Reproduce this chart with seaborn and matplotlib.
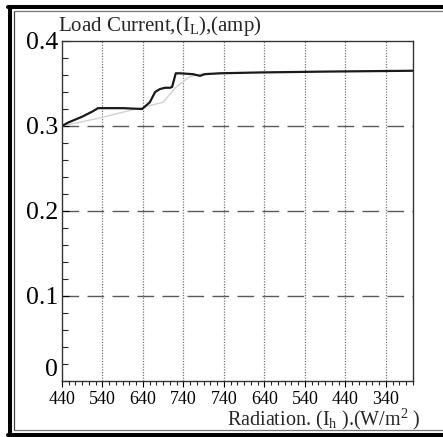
import numpy as np
import pandas as pd
import matplotlib
matplotlib.use('Agg')
import matplotlib.pyplot as plt
from matplotlib.lines import Line2D
import seaborn as sns

# Radiation sequence (up then down), shown as tick labels
radiation_labels = ['440', '540', '640', '740', '740', '640', '540', '440', '340']

# Main (dark) load current trace, x in tick-step units
main_x = [0.0, 0.15, 0.5, 0.75, 0.89, 1.5, 1.98, 2.17, 2.30, 2.42, 2.55, 2.67,
          2.72, 2.81, 2.91, 3.23, 3.41, 3.53, 3.90, 4.89, 6.5, 8.67]
main_y = [0.300, 0.304, 0.311, 0.317, 0.321, 0.321, 0.320, 0.328, 0.340, 0.3435,
          0.345, 0.345, 0.346, 0.362, 0.362, 0.361, 0.359, 0.361, 0.362, 0.363,
          0.364, 0.365]

# Faint (gray) trace
faint_x = [0.0, 0.89, 2.0, 2.5, 2.8, 3.15, 3.5]
faint_y = [0.300, 0.309, 0.322, 0.328, 0.345, 0.358, 0.362]

sns.set_style('white')
plt.rcParams['font.family'] = ['Liberation Serif', 'DejaVu Serif']
plt.rcParams['mathtext.fontset'] = 'custom'
plt.rcParams['mathtext.rm'] = 'Liberation Serif'
plt.rcParams['mathtext.it'] = 'Liberation Serif:italic'

fig = plt.figure(figsize=(4.43, 4.37), dpi=100)
ax = fig.add_axes([62 / 443, 1 - 381 / 437, (413 - 62) / 443, (381 - 41) / 437])

df_main = pd.DataFrame({'x': main_x, 'y': main_y})
df_faint = pd.DataFrame({'x': faint_x, 'y': faint_y})
sns.lineplot(data=df_faint, x='x', y='y', ax=ax, color='#d2d2d2', linewidth=1.0,
             estimator=None, sort=False)
sns.lineplot(data=df_main, x='x', y='y', ax=ax, color='#1a1a1a', linewidth=1.6,
             estimator=None, sort=False)

ax.set_xlim(0, 8.67)
ax.set_ylim(0, 0.4)
ax.set_xticks(range(len(radiation_labels)))
ax.set_xticklabels(radiation_labels, fontsize=13)
ax.set_xticks(np.arange(0, 8.67, 1 / 6), minor=True)
ax.set_yticks([0, 0.1, 0.2, 0.3, 0.4])
ax.set_yticklabels(['0', '0.1', '0.2', '0.3', '0.4'], fontsize=18.5)
ax.set_yticks(np.arange(0, 0.401, 0.02), minor=True)
ax.set_xlabel('')
ax.set_ylabel('')
# the "0" label sits above the corner in the original
ax.get_yticklabels()[0].set_verticalalignment('bottom')

ax.tick_params(axis='x', which='major', direction='out', length=4, width=0.8, pad=3,
               colors='black')
ax.tick_params(axis='x', which='minor', direction='out', length=3, width=0.8)
ax.tick_params(axis='y', which='major', direction='in', length=5, width=0.8, pad=3,
               colors='black')
ax.tick_params(axis='y', which='minor', direction='in', length=4, width=0.8)
ax.tick_params(bottom=True, left=True, which='both')

for s in ax.spines.values():
    s.set_color('#333333')
    s.set_linewidth(1.0)

# dashed horizontal grid at 0.1 / 0.2 / 0.3, dotted verticals at each step
for yv in [0.1, 0.2, 0.3]:
    ax.axhline(yv, color='#5a5a5a', linewidth=1.0, linestyle=(0, (12, 6)), zorder=0)
for xv in range(1, len(radiation_labels)):
    ax.axvline(xv, color='#777777', linewidth=0.9, linestyle=(0, (1, 1.2)), zorder=0)

fig.text(58 / 443, 1 - 31 / 437, r'Load Current,(I$_{\mathrm{L}}$),(amp)', fontsize=15,
         ha='left', va='baseline')
fig.text(421 / 443, 1 - 425 / 437, r'Radiation. (I$_{\mathrm{h}}$ ).(W/m$^{\mathrm{2}}$ )',
         fontsize=14.5, ha='right', va='baseline')

# scanned page frame
W, H = 443, 437
def fx(px):
    return px / W
def fy(py):
    return 1 - py / H
fig.add_artist(Line2D([fx(10), fx(10)], [fy(7), fy(434)], color='black', linewidth=2.9))
fig.add_artist(Line2D([fx(8), fx(443)], [fy(7), fy(7)], color='black', linewidth=2.9))
fig.add_artist(Line2D([fx(8), fx(443)], [fy(434.5), fy(434.5)], color='black', linewidth=2.9))
fig.add_artist(Line2D([fx(14), fx(14)], [fy(11), fy(430)], color='#444444', linewidth=0.9))
fig.add_artist(Line2D([fx(14), fx(443)], [fy(11), fy(11)], color='#777777', linewidth=0.9))
fig.add_artist(Line2D([fx(14), fx(443)], [fy(430), fy(430)], color='#777777', linewidth=0.9))

fig.savefig('out.png', dpi=100)
